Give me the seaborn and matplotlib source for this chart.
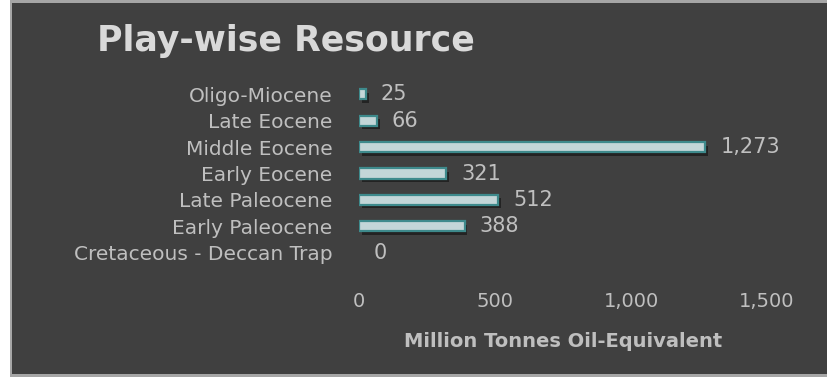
import matplotlib
matplotlib.use("Agg")
import matplotlib.pyplot as plt
import matplotlib.patheffects as pe
from matplotlib.patches import Rectangle
from matplotlib.ticker import FuncFormatter
import seaborn as sns
import pandas as pd

# Resource by play, top to bottom
plays = ["Oligo-Miocene", "Late Eocene", "Middle Eocene", "Early Eocene",
         "Late Paleocene", "Early Paleocene", "Cretaceous - Deccan Trap"]
resource = [25, 66, 1273, 321, 512, 388, 0]
x_ticks = [0, 500, 1000, 1500]

df = pd.DataFrame({"play": plays, "resource": resource})

BG = "#404040"
TXT = "#bfbfbf"
FILL = "#c3d6d8"
EDGE = "#3e8a8c"
FRAME = "#a6a6a6"

sns.set_theme(style="dark")
plt.rcParams["font.family"] = ["DejaVu Sans"]

W, H = 827, 377
fig = plt.figure(figsize=(W / 100, H / 100), dpi=100)
fig.patch.set_facecolor("white")


def fig_rect(x, y, w, h, color):
    fig.patches.append(Rectangle((x / W, y / H), w / W, h / H,
                                 transform=fig.transFigure, facecolor=color,
                                 edgecolor="none", zorder=-5))


# dark panel with a light frame
fig_rect(10, 0, W - 10, H, FRAME)
fig_rect(12, 3, W - 12, H - 6, BG)

x0, x1 = 359, 767
y_top, y_bot = 81, 266
ax = fig.add_axes([x0 / W, 1 - y_bot / H, (x1 - x0) / W, (y_bot - y_top) / H])
ax.set_facecolor("none")

sns.barplot(data=df, y="play", x="resource", orient="h", ax=ax,
            color=FILL, width=0.38, edgecolor=EDGE, linewidth=1.6,
            saturation=1)

shadow = [pe.SimplePatchShadow(offset=(2, -2.5), shadow_rgbFace="black",
                               alpha=0.45), pe.Normal()]
for bar in ax.patches:
    bar.set_facecolor(FILL)
    if bar.get_width() > 0:
        bar.set_path_effects(shadow)
    else:
        bar.set_linewidth(0)

for i, v in enumerate(resource):
    ax.text(v + 55, i, f"{v:,}", va="center", ha="left", color=TXT,
            fontsize=15)

ax.set_xlim(0, 1500)
ax.set_ylim(len(plays) - 0.5, -0.5)
ax.set_xticks(x_ticks)
ax.xaxis.set_major_formatter(FuncFormatter(lambda v, p: f"{int(v):,}"))
ax.tick_params(axis="x", colors=TXT, labelsize=14, length=0, pad=19)
ax.tick_params(axis="y", colors=TXT, labelsize=14.5, length=0, pad=19)
for s in ax.spines.values():
    s.set_visible(False)
ax.grid(False)
ax.set_ylabel("")
ax.set_xlabel("Million Tonnes Oil-Equivalent", color=TXT, fontsize=14,
              fontweight="bold", labelpad=15)

fig.text(97 / W, 1 - 41 / H, "Play-wise Resource", color="#d9d9d9",
         fontsize=25, fontweight="bold", va="center", ha="left")

fig.savefig("out.png", dpi=100, facecolor=fig.get_facecolor())
